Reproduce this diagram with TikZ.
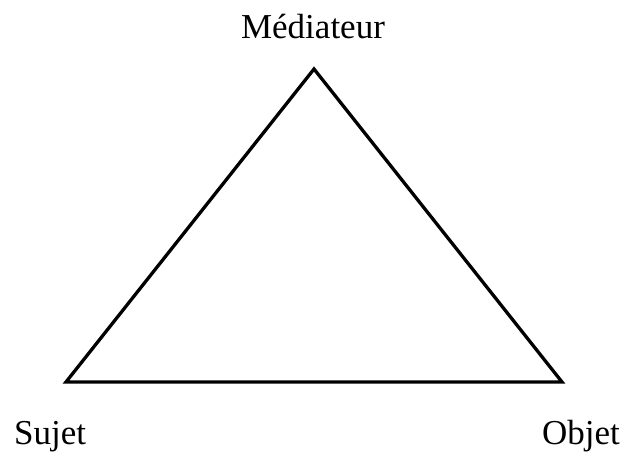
\documentclass[tikz,border=0pt]{standalone}
\usepackage{fontspec}
\setmainfont{Liberation Serif}
\begin{document}
\begin{tikzpicture}[x=1pt,y=-1pt,
  lbl/.style={inner sep=0pt,font=\fontsize{35}{40}\selectfont},
  edge/.style={line width=3.3pt,line join=miter}]
\useasboundingbox (0,0) rectangle (623,452);
\coordinate (m) at (314,69);
\coordinate (s) at (66,382);
\coordinate (o) at (562,382);
\draw[edge] (m) -- (s) -- (o) -- cycle;
\node[lbl,anchor=base] (lm) at (313,39) {Médiateur};
\node[lbl,anchor=base west] (ls) at (14,444) {Sujet};
\node[lbl,anchor=base east] (lo) at (620,444) {Objet};
\end{tikzpicture}
\end{document}
